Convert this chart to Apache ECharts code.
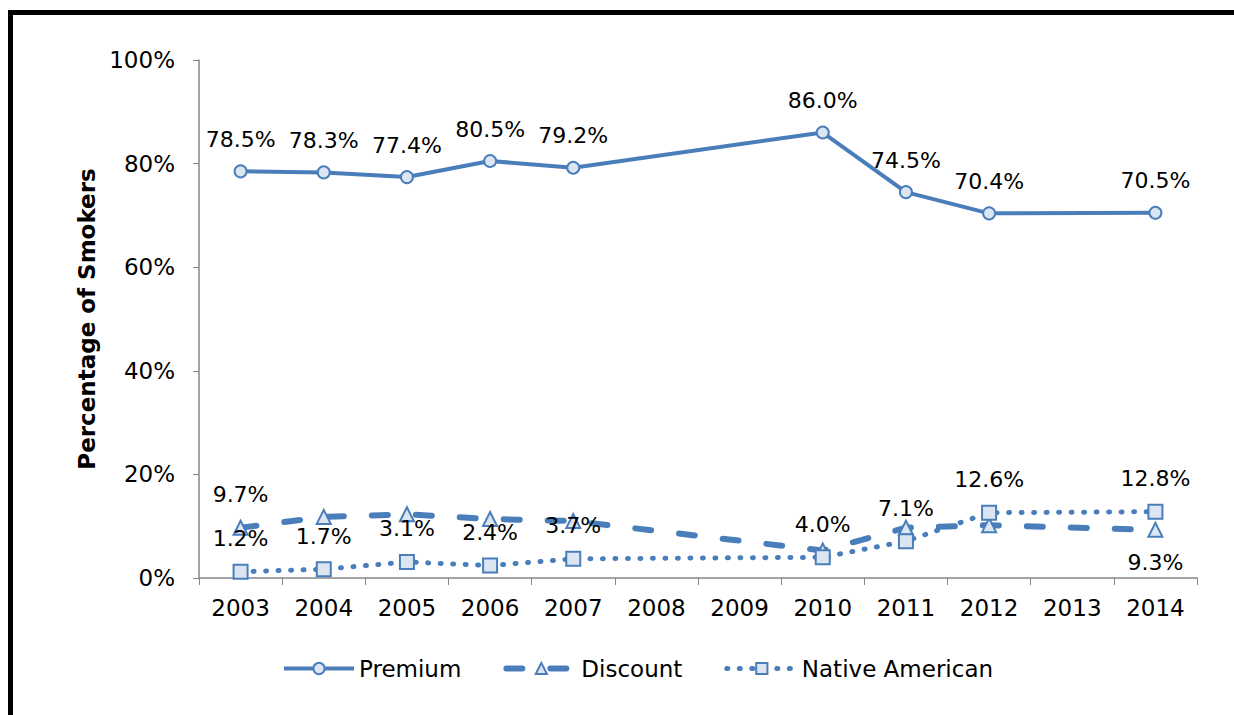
<!DOCTYPE html>
<html lang="en">
<head>
    <meta charset="UTF-8">
    <title>Percentage of Smokers</title>
    <script type="text/javascript" src="https://cdn.jsdelivr.net/npm/echarts@6/dist/echarts.min.js"></script>
    <style>
        body { margin: 0; overflow: hidden; background: #fff; }
        #frame { position: absolute; left: 8px; top: 10px; width: 2000px; height: 2000px;
                 border-left: 5px solid #000; border-top: 5px solid #000; pointer-events: none; }
    </style>
</head>
<body>
<div id="main" style="width: 1234px;height: 715px"></div>
<div id="frame"></div>

<script>
    var years = ['2003', '2004', '2005', '2006', '2007', '2008', '2009', '2010', '2011', '2012', '2013', '2014'];
    var premium = [78.5, 78.3, 77.4, 80.5, 79.2, null, null, 86.0, 74.5, 70.4, null, 70.5];
    var discount = [9.7, 11.8, 12.3, 11.4, 11.0, null, null, 5.3, 9.7, 10.2, null, 9.3];
    var nativeAmerican = [1.2, 1.7, 3.1, 2.4, 3.7, null, null, 4.0, 7.1, 12.6, null, 12.8];
    var yTicks = [0, 20, 40, 60, 80, 100];

    var blue = '#4a7ebb';
    var fill = '#dce6f2';
    var font = 'DejaVu Sans';

    function pct(p) {
        return p.value.toFixed(1) + '%';
    }

    // discount only has labels on the first and last year
    var discountData = discount.map(function (v, i) {
        if (i === 0) return { value: v, label: { show: true, position: 'top' } };
        if (i === discount.length - 1) return { value: v, label: { show: true, position: 'bottom' } };
        return v;
    });

    var chartDom = document.getElementById('main');
    var myChart = echarts.init(chartDom, null, { renderer: 'svg' });
    var option;

    var labelStyle = {
        show: true,
        position: 'top',
        distance: 14,
        color: '#000',
        fontFamily: font,
        fontSize: 22,
        formatter: pct
    };

    option = {
        animation: false,
        backgroundColor: '#fff',
        grid: {
            left: 199,
            right: 37,
            top: 60,
            bottom: 137
        },
        legend: {
            left: 277,
            top: 652,
            itemWidth: 70,
            itemHeight: 14,
            itemGap: 42,
            lineStyle: { width: 'inherit' },
            itemStyle: { borderWidth: 'inherit' },
            textStyle: { fontFamily: font, fontSize: 23, color: '#000' },
            data: ['Premium', 'Discount', 'Native American']
        },
        xAxis: {
            type: 'category',
            data: years,
            boundaryGap: true,
            axisLine: { lineStyle: { color: '#868686', width: 1.5 } },
            axisTick: { show: true, length: 7, lineStyle: { color: '#868686' } },
            axisLabel: { color: '#000', fontFamily: font, fontSize: 23, margin: 18 }
        },
        yAxis: {
            type: 'value',
            min: yTicks[0],
            max: yTicks[yTicks.length - 1],
            interval: yTicks[1] - yTicks[0],
            name: 'Percentage of Smokers',
            nameLocation: 'middle',
            nameGap: 100,
            nameTextStyle: { color: '#000', fontFamily: font, fontSize: 23, fontWeight: 'bold' },
            splitLine: { show: false },
            axisLine: { show: true, lineStyle: { color: '#868686', width: 1.5 } },
            axisTick: { show: true, length: 6, lineStyle: { color: '#868686' } },
            axisLabel: { color: '#000', fontFamily: font, fontSize: 23, margin: 24, formatter: '{value}%' }
        },
        series: [
            {
                name: 'Premium',
                type: 'line',
                data: premium,
                connectNulls: true,
                symbol: 'circle',
                symbolSize: 12,
                color: blue,
                lineStyle: { color: blue, width: 4 },
                itemStyle: { color: fill, borderColor: blue, borderWidth: 2 },
                label: labelStyle,
                z: 3
            },
            {
                name: 'Discount',
                type: 'line',
                data: discountData,
                connectNulls: true,
                symbol: 'triangle',
                symbolSize: 14,
                color: blue,
                lineStyle: { color: blue, width: 6, type: [16, 28], cap: 'round' },
                itemStyle: { color: fill, borderColor: blue, borderWidth: 2 },
                label: Object.assign({}, labelStyle, { show: false }),
                z: 2
            },
            {
                name: 'Native American',
                type: 'line',
                data: nativeAmerican,
                connectNulls: true,
                symbol: 'rect',
                symbolSize: 14,
                color: blue,
                lineStyle: { color: blue, width: 5, type: [1, 11.5], cap: 'round' },
                itemStyle: { color: fill, borderColor: blue, borderWidth: 2 },
                label: labelStyle,
                z: 4
            }
        ]
    };

    myChart.setOption(option);
</script>
</body>
</html>
